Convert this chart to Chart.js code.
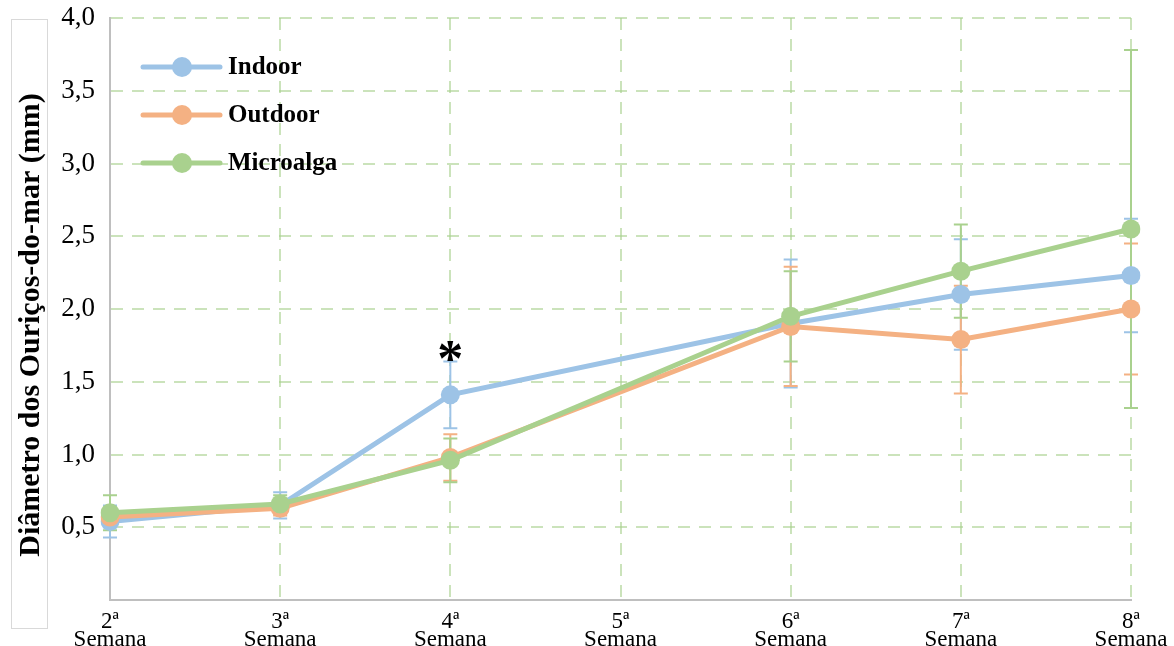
<!DOCTYPE html>
<html>
<head>
    <meta charset="utf-8">
    <script src="https://cdn.jsdelivr.net/npm/chart.js@4.4.0/dist/chart.umd.min.js"></script>
    <style>
        body { margin: 0; background: #fff; }
        .chartBox { width: 1174px; height: 646px; }
    </style>
</head>
<body>

<div class="chartBox">
    <canvas id="myChart"></canvas>
</div>

<script>
    // semanas e medias (mm) com desvio padrao
    const semanas = [['2ª', 'Semana'], ['3ª', 'Semana'], ['4ª', 'Semana'], ['5ª', 'Semana'], ['6ª', 'Semana'], ['7ª', 'Semana'], ['8ª', 'Semana']];

    const indoor = [0.54, 0.65, 1.41, null, 1.90, 2.10, 2.23];
    const indoorErr = [0.11, 0.09, 0.23, null, 0.44, 0.38, 0.39];

    const outdoor = [0.57, 0.63, 0.98, null, 1.88, 1.79, 2.00];
    const outdoorErr = [0.05, 0.05, 0.16, null, 0.41, 0.37, 0.45];

    const microalga = [0.60, 0.66, 0.96, null, 1.95, 2.26, 2.55];
    const microalgaErr = [0.12, 0.06, 0.15, null, 0.31, 0.32, 1.23];

    const yTicks = [0, 0.5, 1, 1.5, 2, 2.5, 3, 3.5, 4];

    const serif = "'Liberation Serif', 'Times New Roman', serif";

    //error bars, drawn under the lines
    const errorBars = {
        id: 'errorBars',
        beforeDatasetsDraw(chart) {
            const ctx = chart.ctx;
            const x = chart.scales.x, y = chart.scales.y;
            ctx.save();
            chart.data.datasets.forEach(ds => {
                ds.err.forEach((e, i) => {
                    const v = ds.data[i];
                    if (v === null || e === null) return;
                    const px = x.getPixelForValue(i);
                    const top = y.getPixelForValue(v + e);
                    const bot = y.getPixelForValue(v - e);
                    ctx.strokeStyle = ds.borderColor;
                    ctx.lineWidth = 2;
                    ctx.beginPath();
                    ctx.moveTo(px, top); ctx.lineTo(px, bot);
                    ctx.moveTo(px - 7, top); ctx.lineTo(px + 7, top);
                    ctx.moveTo(px - 7, bot); ctx.lineTo(px + 7, bot);
                    ctx.stroke();
                });
            });
            ctx.restore();
        }
    };

    //legend box, axis title and the significance mark
    const extras = {
        id: 'extras',
        afterDraw(chart) {
            const ctx = chart.ctx;
            const area = chart.chartArea;
            const x = chart.scales.x, y = chart.scales.y;
            ctx.save();

            // y title in its frame
            ctx.strokeStyle = '#d9d9d9';
            ctx.lineWidth = 1;
            ctx.strokeRect(11.5, 19.5, 36, 609);
            ctx.translate(31, 325);
            ctx.rotate(-Math.PI / 2);
            ctx.fillStyle = '#000';
            ctx.font = 'bold 30px ' + serif;
            ctx.textAlign = 'center';
            ctx.textBaseline = 'middle';
            ctx.fillText('Diâmetro dos Ouriços-do-mar (mm)', 0, 0);
            ctx.setTransform(1, 0, 0, 1, 0, 0);

            // legend
            const rows = [49, 97, 145];
            chart.data.datasets.forEach((ds, k) => {
                const ly = area.top + rows[k];
                const lx = area.left + 33;
                ctx.strokeStyle = ds.borderColor;
                ctx.lineWidth = 5;
                ctx.lineCap = 'round';
                ctx.beginPath();
                ctx.moveTo(lx, ly); ctx.lineTo(lx + 77, ly);
                ctx.stroke();
                ctx.fillStyle = ds.borderColor;
                ctx.beginPath();
                ctx.arc(lx + 39, ly, 10, 0, Math.PI * 2);
                ctx.fill();
                ctx.fillStyle = '#000';
                ctx.font = 'bold 25px ' + serif;
                ctx.textAlign = 'left';
                ctx.textBaseline = 'middle';
                ctx.fillText(ds.label, lx + 85, ly + 1);
            });

            // * on the 4a semana indoor point
            const sx = x.getPixelForValue(2);
            const sy = y.getPixelForValue(indoor[2] + indoorErr[2]);
            ctx.fillStyle = '#000';
            ctx.font = 'bold 52px ' + serif;
            ctx.textAlign = 'center';
            ctx.textBaseline = 'alphabetic';
            ctx.fillText('*', sx, sy + 15);

            ctx.restore();
        }
    };

    const data = {
        labels: semanas,
        datasets: [{
            label: 'Indoor',
            data: indoor,
            err: indoorErr,
            borderColor: '#9dc3e6',
            backgroundColor: '#9dc3e6',
            order: 3
        }, {
            label: 'Outdoor',
            data: outdoor,
            err: outdoorErr,
            borderColor: '#f4b183',
            backgroundColor: '#f4b183',
            order: 2
        }, {
            label: 'Microalga',
            data: microalga,
            err: microalgaErr,
            borderColor: '#a9d18e',
            backgroundColor: '#a9d18e',
            order: 1
        }]
    };

    const gridColor = 'rgba(169,209,142,0.6)';

    const config = {
        type: 'line',
        data,
        options: {
            responsive: true,
            maintainAspectRatio: false,
            animation: false,
            spanGaps: true,
            layout: { padding: { top: 18, right: 43, bottom: 0, left: 0 } },
            elements: {
                line: { borderWidth: 5, tension: 0 },
                point: { radius: 9.5, borderWidth: 0, hoverRadius: 9.5 }
            },
            plugins: {
                legend: { display: false },
                tooltip: { enabled: false }
            },
            scales: {
                x: {
                    offset: false,
                    afterFit(scale) {
                        scale.height = 46;
                        scale.paddingLeft = 0;
                        scale.paddingRight = 0;
                    },
                    grid: { color: gridColor, lineWidth: 2, drawTicks: false },
                    border: { color: '#bfbfbf', width: 2, dash: [12, 9] },
                    ticks: {
                        padding: 13,
                        maxRotation: 0,
                        autoSkip: false,
                        color: '#000',
                        font: { family: serif, size: 23, lineHeight: 0.78 }
                    }
                },
                y: {
                    min: 0,
                    max: 4,
                    afterFit(scale) {
                        scale.width = 110;
                        scale.paddingTop = 0;
                        scale.paddingBottom = 0;
                    },
                    afterBuildTicks(scale) { scale.ticks = yTicks.map(v => ({ value: v })); },
                    grid: { color: gridColor, lineWidth: 2, drawTicks: false },
                    border: { color: '#bfbfbf', width: 2, dash: [12, 9] },
                    ticks: {
                        padding: 15,
                        color: '#000',
                        font: { family: serif, size: 27 },
                        callback: v => v === 0 ? '' : v.toFixed(1).replace('.', ',')
                    }
                }
            }
        },
        plugins: [errorBars, extras]
    };

    const myChart = new Chart(document.getElementById('myChart'), config);
</script>

</body>
</html>
